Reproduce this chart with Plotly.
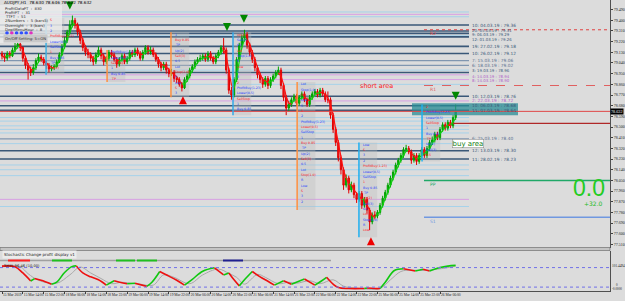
import numpy as np
import pandas as pd
import plotly.graph_objects as go

# ---------------- data ----------------
x_label_bars = [0, 8, 16, 24, 32, 40, 48, 56, 64, 72, 80, 88, 96, 104, 112, 120, 128, 136, 144, 152, 160, 168]
x_labels = ["15 Mar 2019", "15 Mar 14:00", "15 Mar 22:00", "18 Mar 06:00", "18 Mar 14:00", "18 Mar 22:00",
            "19 Mar 06:00", "19 Mar 14:00", "19 Mar 22:00", "20 Mar 06:00", "20 Mar 14:00", "20 Mar 22:00",
            "21 Mar 06:00", "21 Mar 14:00", "21 Mar 22:00", "22 Mar 06:00", "22 Mar 14:00", "22 Mar 22:00",
            "25 Mar 06:00", "25 Mar 14:00", "25 Mar 22:00", "26 Mar 06:00"]

price_ticks = [79.490, 79.400, 79.310, 79.220, 79.130, 79.040, 78.950, 78.860, 78.770, 78.680, 78.590,
               78.500, 78.410, 78.320, 78.230, 78.140, 78.050, 77.960, 77.870, 77.780, 77.690, 77.600, 77.510]

first_open = 79.12
closes = [79.10, 79.08, 79.12, 79.10, 79.15, 79.18, 79.20, 79.17, 79.08, 79.02,
          78.98, 78.96, 79.00, 79.06, 79.09, 79.07, 79.04, 79.02, 78.99, 79.00,
          79.01, 79.05, 79.11, 79.18, 79.23, 79.30, 79.36, 79.40, 79.36, 79.30,
          79.23, 79.17, 79.13, 79.11, 79.08, 79.05, 79.11, 79.15, 79.10, 79.05,
          79.08, 79.13, 79.11, 79.07, 79.03, 79.07, 79.10, 79.05, 79.08, 79.13,
          79.11, 79.15, 79.12, 79.08, 79.13, 79.17, 79.13, 79.15, 79.11, 79.07,
          79.03, 79.00, 79.03, 78.98, 78.95, 78.96, 78.91, 78.90, 78.86, 78.83,
          78.90, 78.93, 78.98, 79.01, 79.05, 79.07, 79.08, 79.10, 79.07, 79.12,
          79.08, 79.05, 79.10, 79.13, 79.17, 79.15, 78.98, 78.81, 78.77, 78.90,
          79.07, 79.19, 79.25, 79.28, 79.19, 79.13, 79.07, 79.00, 78.94, 78.90,
          78.86, 78.91, 78.85, 78.90, 78.93, 78.96, 78.98, 78.85, 78.75, 78.66,
          78.69, 78.73, 78.76, 78.70, 78.75, 78.78, 78.73, 78.69, 78.75, 78.78,
          78.80, 78.77, 78.81, 78.78, 78.73, 78.73, 78.60, 78.48, 78.37, 78.24,
          78.14, 78.01, 78.07, 77.97, 78.01, 77.93, 77.89, 77.94, 77.84, 77.89,
          77.80, 77.70, 77.76, 77.75, 77.78, 77.84, 77.90, 77.95, 78.01, 78.07,
          78.12, 78.18, 78.22, 78.26, 78.31, 78.32, 78.29, 78.22, 78.26, 78.21,
          78.26, 78.31, 78.26, 78.32, 78.37, 78.39, 78.44, 78.41, 78.48, 78.52,
          78.49, 78.54, 78.51, 78.58, 78.63]
highs = [79.14, 79.12, 79.14, 79.14, 79.17, 79.21, 79.23, 79.22, 79.18, 79.10,
         79.04, 79.01, 79.03, 79.08, 79.12, 79.11, 79.09, 79.06, 79.04, 79.02,
         79.03, 79.07, 79.13, 79.20, 79.26, 79.32, 79.40, 79.44, 79.42, 79.38,
         79.32, 79.25, 79.19, 79.16, 79.13, 79.10, 79.13, 79.18, 79.17, 79.12,
         79.10, 79.15, 79.15, 79.13, 79.09, 79.09, 79.12, 79.12, 79.10, 79.15,
         79.15, 79.17, 79.17, 79.14, 79.15, 79.19, 79.19, 79.18, 79.17, 79.13,
         79.09, 79.05, 79.05, 79.05, 79.00, 78.99, 78.98, 78.93, 78.92, 78.88,
         78.92, 78.95, 79.00, 79.03, 79.07, 79.09, 79.11, 79.12, 79.12, 79.14,
         79.14, 79.10, 79.12, 79.15, 79.19, 79.25, 79.17, 79.00, 78.84, 78.92,
         79.09, 79.21, 79.28, 79.32, 79.30, 79.21, 79.15, 79.09, 79.02, 78.96,
         78.92, 78.93, 78.93, 78.92, 78.95, 78.98, 79.01, 79.00, 78.87, 78.77,
         78.72, 78.75, 78.78, 78.78, 78.77, 78.80, 78.80, 78.75, 78.77, 78.80,
         78.82, 78.82, 78.83, 78.83, 78.80, 78.80, 78.75, 78.62, 78.50, 78.39,
         78.26, 78.16, 78.10, 78.09, 78.04, 78.03, 77.95, 77.96, 77.96, 77.91,
         77.91, 77.82, 77.78, 77.79, 77.80, 77.86, 77.92, 77.97, 78.03, 78.09,
         78.14, 78.20, 78.24, 78.28, 78.33, 78.35, 78.34, 78.31, 78.28, 78.28,
         78.28, 78.33, 78.33, 78.34, 78.39, 78.42, 78.46, 78.46, 78.50, 78.54,
         78.54, 78.56, 78.56, 78.60, 78.69]
lows = [79.07, 79.05, 79.06, 79.08, 79.09, 79.13, 79.16, 79.14, 79.05, 78.99,
        78.90, 78.93, 78.94, 78.98, 79.04, 79.05, 79.02, 78.99, 78.96, 78.97,
        78.98, 79.00, 79.04, 79.10, 79.16, 79.21, 79.28, 79.34, 79.33, 79.27,
        79.20, 79.14, 79.10, 79.08, 79.05, 79.02, 79.03, 79.09, 79.07, 79.02,
        79.03, 79.06, 79.08, 79.05, 79.00, 79.01, 79.05, 79.03, 79.03, 79.06,
        79.09, 79.09, 79.10, 79.06, 79.06, 79.11, 79.11, 79.11, 79.09, 79.05,
        79.00, 78.97, 78.98, 78.95, 78.92, 78.93, 78.88, 78.87, 78.84, 78.80,
        78.82, 78.88, 78.91, 78.96, 78.99, 79.03, 79.05, 79.06, 79.05, 79.05,
        79.06, 79.03, 79.03, 79.08, 79.11, 79.12, 78.95, 78.78, 78.73, 78.75,
        78.88, 79.05, 79.17, 79.22, 79.16, 79.10, 79.04, 78.97, 78.91, 78.87,
        78.83, 78.84, 78.82, 78.83, 78.88, 78.91, 78.94, 78.82, 78.72, 78.60,
        78.63, 78.67, 78.71, 78.68, 78.68, 78.73, 78.71, 78.67, 78.67, 78.73,
        78.76, 78.75, 78.75, 78.76, 78.71, 78.70, 78.57, 78.45, 78.34, 78.21,
        78.10, 77.97, 77.99, 77.94, 77.95, 77.90, 77.86, 77.87, 77.81, 77.82,
        77.77, 77.63, 77.68, 77.72, 77.73, 77.76, 77.82, 77.88, 77.93, 77.99,
        78.05, 78.10, 78.16, 78.20, 78.24, 78.29, 78.27, 78.19, 78.20, 78.18,
        78.19, 78.24, 78.24, 78.24, 78.30, 78.35, 78.37, 78.39, 78.39, 78.46,
        78.47, 78.47, 78.49, 78.49, 78.56]

# stochastic (%K main, %D signal) read at key bars
stoch_k_bar = [0, 5, 8, 11, 12.5, 15, 19, 21, 24, 27, 28.5, 31, 34, 37, 40, 43, 46, 48, 51, 55.5, 57.5, 60.5,
               64, 67, 70, 73, 77, 81.5, 85, 87, 89, 91, 93, 96, 99, 102, 104.5, 108, 111, 116, 120, 122.5,
               124.5, 127, 129, 133, 139, 140, 143, 145, 147, 150.5, 154, 158.5, 161.5, 164, 168, 171, 174]
stoch_k_val = [96, 93, 68, 35, 45, 38, 22, 30, 70, 95, 97, 68, 52, 40, 18, 36, 28, 24, 26, 13, 30, 74,
               55, 38, 18, 42, 75, 89, 60, 68, 40, 15, 40, 74, 52, 34, 18, 36, 22, 43, 18, 35,
               50, 22, 8, 4, 4, 6, 4, 4, 30, 78, 85, 76, 83, 76, 90, 96, 99]
stoch_d_bar = [0, 7, 10, 14, 21, 26, 30, 34, 38, 42, 46, 50, 53, 58, 62, 66, 72, 77, 83, 87, 90, 93, 98,
               101, 106, 110, 113, 118, 122, 127, 131, 136, 145, 149, 153, 157, 160, 164, 170, 174]
stoch_d_val = [93, 93, 65, 38, 26, 60, 92, 68, 45, 24, 30, 25, 22, 18, 60, 50, 24, 60, 84, 66, 50, 22, 62,
               50, 24, 30, 26, 36, 24, 40, 14, 6, 5, 40, 74, 80, 78, 80, 88, 96]
stoch_levels = [90, 10]

# support / resistance levels (price, style, label, label nudge in px)
levels = [
    (79.47, "light", "", 0), (79.45, "plum", "", 0), (79.43, "light", "", 0),
    (79.36, "dark", "10: 04.03.19 : 79.36", 0),
    (79.31, "dark", "20: 05.03.19 : 79.31", 0.01), (79.29, "dark", "9: 06.03.19 : 79.29", -1.5),
    (79.27, "light", "", 0), (79.26, "dark", "12: 01.03.19 : 79.26", -3),
    (79.18, "dark", "19: 27.02.19 : 79.18", 0),
    (79.12, "dark", "10: 26.02.19 : 79.12", 0), (79.06, "gray", "7: 15.03.19 : 79.06", 0),
    (79.02, "gray", "6: 18.03.19 : 79.02", 0), (78.98, "light", "", 0),
    (78.96, "dark", "3: 19.03.19 : 78.96", 1.5), (78.94, "plum", "4: 14.03.19 : 78.94", -1.5),
    (78.90, "plum", "8: 14.03.19 : 78.90", -1), (78.86, "light", "", 0),
    (78.76, "dark", "10: 12.03.19 : 78.76", 0), (78.72, "plum", "2: 22.03.19 : 78.72", 0),
    (78.68, "dark", "10: 06.03.19 : 78.68", 0), (78.64, "dark", "11: 07.03.19 : 78.64", 0),
    (78.58, "light", "", 0), (78.55, "light", "", 0), (78.51, "light", "", 0), (78.48, "light", "", 0),
    (78.45, "light", "", 0), (78.40, "gray", "6: 25.03.19 : 78.40", 0), (78.36, "light", "", 0),
    (78.30, "dark", "12: 13.03.19 : 78.30", 0), (78.23, "dark", "11: 28.02.19 : 78.23", 0),
    (78.18, "light", "", 0), (78.14, "light", "", 0), (78.09, "light", "", 0),
    (77.89, "plum", "", 0), (77.83, "light", "", 0),
]
pivots = [(79.32, "R2", "#e04040", "dot"), (78.85, "R1", "#e06060", "dash"),
          (78.05, "PP", "#20a868", "solid"), (77.74, "S1", "#7098e0", "solid")]
bid_price = 78.632
short_zone = (78.60, 78.70)

sell_arrow_bars = [26, 86.3, 92.8, 174]
sell_arrow_prices = [79.49, 79.31, 79.38, 78.73]
buy_arrow_bars = [69.4, 141.5]
buy_arrow_prices = [78.76, 77.57]

marker_bars = [16.9, 40.3, 64.8, 88.6, 113.2, 136.9, 161.1]
marker_tops = [79.42, 79.15, 79.30, 79.30, 78.88, 78.37, 78.69]
marker_bottoms = [78.94, 78.88, 78.75, 78.60, 77.80, 77.57, 78.21]
marker_colors = ["#40b0e0", "#ff9040", "#ff9040", "#30a8e8", "#ff9040", "#20b0f0", "#20b0f0"]
column_texts = ["S", "3", "2", "ProfitBuy(1.23)", "Lower(0.5)", "SellStop", "1", "Buy 0.85",
                "TP", "Up(2)", "Sell(3)", "0.5", "Lot", "Stop(1.0)", "R", "Low"]

# ---------------- helpers ----------------
PW, PH = 610.0, 291.0
def xp(px): return px / PW
def yp(py): return (PH - py) / PH

FONT = "DejaVu Sans"
NARROW = "Liberation Sans Narrow"
n = len(closes)
bars = list(range(n))
opens = [first_open] + closes[:-1]

fig = go.Figure()

# price candles
fig.add_trace(go.Candlestick(
    x=bars, open=opens, high=highs, low=lows, close=closes,
    increasing=dict(line=dict(color="#00a000", width=1), fillcolor="#00c800"),
    decreasing=dict(line=dict(color="#e00000", width=1), fillcolor="#ff2020"),
    whiskerwidth=0, xaxis="x2", yaxis="y", showlegend=False, hoverinfo="skip"))

# trend line overlay coloured by slope
ma = pd.Series(closes).rolling(3, min_periods=1).mean().tolist()
gx, gy, rx, ry = [], [], [], []
for i in range(1, n):
    if ma[i] >= ma[i - 1]:
        gx += [i - 1, i, None]; gy += [ma[i - 1], ma[i], None]
    else:
        rx += [i - 1, i, None]; ry += [ma[i - 1], ma[i], None]
fig.add_trace(go.Scatter(x=gx, y=gy, mode="lines", line=dict(color="#10d010", width=1.2),
                         xaxis="x2", yaxis="y", showlegend=False, hoverinfo="skip"))
fig.add_trace(go.Scatter(x=rx, y=ry, mode="lines", line=dict(color="#ff1010", width=1.2),
                         xaxis="x2", yaxis="y", showlegend=False, hoverinfo="skip"))

# arrows
fig.add_trace(go.Scatter(x=sell_arrow_bars, y=sell_arrow_prices, mode="markers",
                         marker=dict(symbol="arrow-down", size=8, color="#008800"),
                         xaxis="x2", yaxis="y", showlegend=False, hoverinfo="skip"))
fig.add_trace(go.Scatter(x=buy_arrow_bars, y=buy_arrow_prices, mode="markers",
                         marker=dict(symbol="arrow-up", size=8, color="#ee0000"),
                         xaxis="x2", yaxis="y", showlegend=False, hoverinfo="skip"))

# stochastic: %D (gray) then %K coloured by direction
fig.add_trace(go.Scatter(x=stoch_d_bar, y=stoch_d_val, mode="lines", line=dict(color="#a8a8a8", width=1, shape="spline"),
                         xaxis="x", yaxis="y2", showlegend=False, hoverinfo="skip"))
runs = []
cur = [0]
cur_dir = stoch_k_val[1] > stoch_k_val[0]
for i in range(1, len(stoch_k_val)):
    d = stoch_k_val[i] > stoch_k_val[i - 1]
    if d != cur_dir:
        runs.append((cur_dir, cur))
        cur = [i - 1]
        cur_dir = d
    cur.append(i)
runs.append((cur_dir, cur))
for up, idx in runs:
    fig.add_trace(go.Scatter(x=[stoch_k_bar[j] for j in idx], y=[stoch_k_val[j] for j in idx], mode="lines",
                             line=dict(color="#10c810" if up else "#ee1010", width=1.6, shape="spline"),
                             xaxis="x", yaxis="y2", showlegend=False, hoverinfo="skip"))

shapes = []
ann = []
colmap = {"dark": ("#3a5878", 1.6), "light": ("#a6d2ea", 1), "plum": ("#d8a0e4", 1), "gray": ("#8096b0", 1.3)}
txtmap = {"dark": "#3a5878", "light": "#6a9ab8", "plum": "#b060c8", "gray": "#5a7090"}

# gray boxes behind the marker text columns
for b, t, bt in zip(marker_bars, marker_tops, marker_bottoms):
    shapes.append(dict(type="rect", xref="x2", yref="y", x0=b, x1=b + 7, y0=bt, y1=t,
                       fillcolor="rgba(190,190,190,0.35)", line=dict(width=0), layer="below"))

for v, style, label, nudge in levels:
    c, w = colmap[style]
    shapes.append(dict(type="line", xref="paper", yref="y", x0=0, x1=xp(469), y0=v, y1=v,
                       line=dict(color=c, width=w), layer="below"))
    if label:
        ann.append(dict(x=xp(470), y=v, xref="paper", yref="y", text=label, showarrow=False, yshift=nudge,
                        xanchor="left", yanchor="middle",
                        font=dict(size=3.9 if nudge else 4.3, color=txtmap[style], family=FONT)))

# pivots
for v, name, c, dash in pivots:
    shapes.append(dict(type="line", xref="paper", yref="y", x0=xp(424), x1=1, y0=v, y1=v,
                       line=dict(color=c, width=1.5 if dash == "solid" else 1, dash=dash)))
    ann.append(dict(x=xp(433), y=v, xref="paper", yref="y", text=name, showarrow=False, yshift=-4,
                    xanchor="center", yanchor="middle", font=dict(size=4.5, color=c, family=FONT)))

# short zone
shapes.append(dict(type="rect", xref="paper", yref="y", x0=xp(412), x1=xp(518), y0=short_zone[0], y1=short_zone[1],
                   fillcolor="rgba(40,140,150,0.75)", line=dict(width=0)))
# bid line & second red line
shapes.append(dict(type="line", xref="paper", yref="y", x0=0, x1=1, y0=bid_price, y1=bid_price,
                   line=dict(color="#e04848", width=1)))
shapes.append(dict(type="line", xref="paper", yref="y", x0=xp(453), x1=1, y0=78.53, y1=78.53,
                   line=dict(color="#b02828", width=1.3)))

# vertical marker lines + text columns
for k, (b, t, bt, c) in enumerate(zip(marker_bars, marker_tops, marker_bottoms, marker_colors)):
    shapes.append(dict(type="line", xref="x2", yref="y", x0=b, x1=b, y0=bt, y1=t, line=dict(color=c, width=1.5)))
    m = int((t - bt) / 0.045)
    for j in range(m):
        txt = column_texts[(j + k * 3) % len(column_texts)]
        ann.append(dict(x=b + 0.8, y=t - 0.02 - j * 0.045, xref="x2", yref="y", text=txt, showarrow=False,
                        xanchor="left", yanchor="middle",
                        font=dict(size=3.2, color="#2040ff" if (j + k) % 3 else "#ff2020", family=FONT)))

# bid price label
ann.append(dict(x=1, y=bid_price, xref="paper", yref="y", text="78.632", showarrow=False, xanchor="left",
                yanchor="middle", bgcolor="#000000", font=dict(size=4.2, color="#ffffff", family=NARROW), borderpad=0))

# texts
ann.append(dict(x=xp(376), y=78.846, xref="paper", yref="y", text="short area", showarrow=False,
                xanchor="center", font=dict(size=6.5, color="#ff2020", family=FONT)))
ann.append(dict(x=xp(468), y=78.365, xref="paper", yref="y", text="buy area", showarrow=False,
                xanchor="center", bgcolor="#ffffff", bordercolor="#808080", borderwidth=0.5, borderpad=0,
                font=dict(size=7, color="#108010", family=FONT)))
ann.append(dict(x=xp(589), y=yp(188), xref="paper", yref="paper", text="0.0", showarrow=False,
                xanchor="center", yanchor="middle", font=dict(size=23, color="#22cc22", family="Liberation Sans")))
ann.append(dict(x=xp(593), y=yp(203), xref="paper", yref="paper", text="+32.0", showarrow=False,
                xanchor="center", yanchor="middle", font=dict(size=6, color="#22bb22", family=FONT)))

# top-left info
info_lines = ["ProfitDataFT  :  830", "ProfitFT  :  31", "TTFT  :  51", "2Numbers  :  5 (bars5)",
              "Overnight  :  3 (bars)", "DeptMenuHour  :  8"]
shapes.append(dict(type="rect", xref="paper", yref="paper", x0=0, x1=xp(62), y0=yp(43), y1=yp(5),
                   fillcolor="rgba(235,235,235,0.8)", line=dict(width=0)))
ann.append(dict(x=xp(2), y=yp(3), xref="paper", yref="paper", text="AUDJPY,H1  78.630 78.646 78.622 78.632",
                showarrow=False, xanchor="left", yanchor="middle", font=dict(size=4.2, color="#000000", family=FONT)))
for k, t in enumerate(info_lines):
    ann.append(dict(x=xp(3), y=yp(8 + 4.3 * k), xref="paper", yref="paper", text=t, showarrow=False,
                    xanchor="left", yanchor="middle", font=dict(size=3.8, color="#303030", family=FONT)))
for k, c in enumerate(["#3050ff", "#e030c0", "#3050ff", "#3050ff", "#3050ff", "#e030c0"]):
    cx = 7 + 4.8 * k
    shapes.append(dict(type="circle", xref="paper", yref="paper", x0=xp(cx - 1.8), x1=xp(cx + 1.8),
                       y0=yp(34.8), y1=yp(31.2), fillcolor=c, line=dict(width=0)))
ann.append(dict(x=xp(3), y=yp(39), xref="paper", yref="paper", text="On/Off Setting: 5=ON",
                showarrow=False, xanchor="left", yanchor="middle", bgcolor="#c8c8c8",
                font=dict(size=3.8, color="#303030", family=FONT)))

# panel separator
shapes.append(dict(type="rect", xref="paper", yref="paper", x0=0, x1=1, y0=yp(250.5), y1=yp(247.5),
                   fillcolor="#c4c4c4", line=dict(color="#606060", width=0.6)))
# sub panel stuff
for lv in stoch_levels:
    shapes.append(dict(type="line", xref="paper", yref="y2", x0=0, x1=1, y0=lv, y1=lv,
                       line=dict(color="#7070e8", width=1, dash="dot")))
shapes.append(dict(type="line", xref="paper", yref="paper", x0=0, x1=xp(331), y0=yp(260.5), y1=yp(260.5),
                   line=dict(color="#a0a0a0", width=1.5)))
for (a, b2, c) in [(8, 30, "#ff2020"), (52, 72, "#20c020"), (116, 135, "#20c020"), (137, 157, "#20c020"),
                   (223, 243, "#202090")]:
    shapes.append(dict(type="line", xref="paper", yref="paper", x0=xp(a), x1=xp(b2), y0=yp(260.5), y1=yp(260.5),
                       line=dict(color=c, width=2)))
ann.append(dict(x=xp(2), y=yp(254.5), xref="paper", yref="paper", text="Stochastic Change profit display v1",
                showarrow=False, xanchor="left", yanchor="middle", bgcolor="#ececec",
                font=dict(size=4, color="#202020", family=FONT)))
ann.append(dict(x=xp(2), y=yp(265.5), xref="paper", yref="paper", text="SMM: 96.46 (10.00)",
                showarrow=False, xanchor="left", yanchor="middle",
                font=dict(size=3.6, color="#202020", family=FONT)))
ann.append(dict(x=1, y=yp(266), xref="paper", yref="paper", text="101.4494", showarrow=False, xanchor="left",
                yanchor="middle", font=dict(size=3.4, color="#202020", family=NARROW)))
ann.append(dict(x=1, y=yp(287), xref="paper", yref="paper", text="0<br>-0.0000", showarrow=False, xanchor="left",
                yanchor="middle", font=dict(size=3.2, color="#202020", family=NARROW)))

BG = "#dcdcdc"
fig.update_layout(
    width=625, height=301, margin=dict(l=0, r=15, t=0, b=10),
    paper_bgcolor=BG, plot_bgcolor=BG, showlegend=False,
    shapes=shapes, annotations=ann,
    xaxis=dict(domain=[0, 1], anchor="y2", range=[-0.77, 233.2], tickvals=x_label_bars, ticktext=x_labels,
               tickangle=0, ticklabelposition="outside right",
               tickfont=dict(size=3.6, color="#202020", family=NARROW),
               ticks="outside", ticklen=2, tickcolor="#404040", showgrid=False, zeroline=False,
               showline=True, linecolor="#505050", linewidth=1, automargin=False, fixedrange=True),
    xaxis2=dict(domain=[0, 1], anchor="y", matches="x", showticklabels=False, showgrid=False, zeroline=False,
                rangeslider=dict(visible=False), ticks=""),
    yaxis=dict(domain=[yp(248), 1], range=[77.48, 79.571], side="right", tickvals=price_ticks,
               ticktext=[f"{v:.3f}" for v in price_ticks], tickfont=dict(size=4.0, color="#202020", family=NARROW),
               ticks="outside", ticklen=2, tickcolor="#404040", showgrid=False, zeroline=False,
               showline=True, linecolor="#505050", linewidth=1, automargin=False),
    yaxis2=dict(domain=[0, yp(251)], range=[-6, 158], side="right", showticklabels=False, ticks="",
                showgrid=False, zeroline=False, showline=True, linecolor="#505050", linewidth=1, automargin=False),
)

fig.write_html("out.html")
